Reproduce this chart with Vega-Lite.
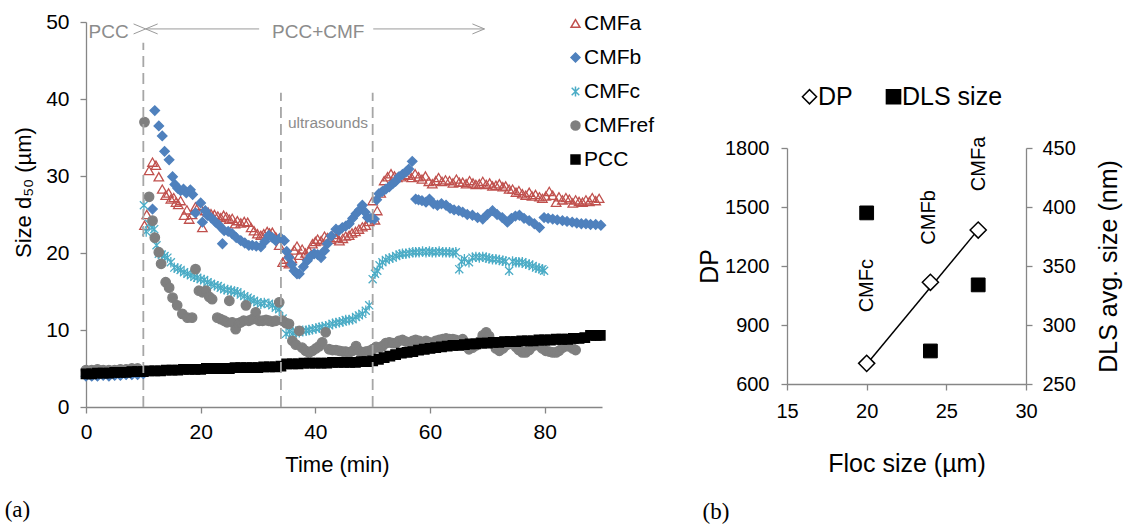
{
"$schema":"https://vega.github.io/schema/vega-lite/v6.json",
"background":"white",
"padding":{"left":4,"top":11,"right":2,"bottom":0},
"spacing":43,
"resolve":{"scale":{"shape":"independent","fill":"independent","stroke":"independent"},"legend":{"shape":"independent","fill":"independent","stroke":"independent"}},
"config":{"view":{"stroke":null},"font":"Liberation Sans",
 "axis":{"grid":false,"domainColor":"#868686","tickColor":"#868686","domainWidth":1.3,"tickWidth":1.3,"tickSize":6,"labelColor":"#000000","titleColor":"#000000","titleFontWeight":"normal","labelFont":"Liberation Sans","titleFont":"Liberation Sans","labelFlush":false},
 "legend":{"labelFont":"Liberation Sans"}},
"datasets":{"size":[
{"s":"CMFa","t":10.2,"d50":23.6},{"s":"CMFa","t":10.6,"d50":25.0},{"s":"CMFa","t":11.0,"d50":30.7},{"s":"CMFa","t":11.6,"d50":31.8},{"s":"CMFa","t":12.2,"d50":31.4},{"s":"CMFa","t":12.7,"d50":29.9},{"s":"CMFa","t":13.3,"d50":28.3},{"s":"CMFa","t":13.9,"d50":27.5},{"s":"CMFa","t":14.4,"d50":27.8},{"s":"CMFa","t":14.8,"d50":27.0},{"s":"CMFa","t":15.3,"d50":27.2},{"s":"CMFa","t":15.7,"d50":26.6},{"s":"CMFa","t":16.1,"d50":26.3},{"s":"CMFa","t":16.5,"d50":26.8},{"s":"CMFa","t":17.1,"d50":24.9},{"s":"CMFa","t":17.6,"d50":25.6},{"s":"CMFa","t":18.0,"d50":24.4},{"s":"CMFa","t":18.5,"d50":25.0},{"s":"CMFa","t":19.1,"d50":26.0},{"s":"CMFa","t":19.7,"d50":26.2},{"s":"CMFa","t":20.3,"d50":23.3},{"s":"CMFa","t":20.8,"d50":25.5},{"s":"CMFa","t":21.3,"d50":25.3},{"s":"CMFa","t":21.8,"d50":25.1},{"s":"CMFa","t":22.4,"d50":25.0},{"s":"CMFa","t":23.0,"d50":24.8},{"s":"CMFa","t":23.5,"d50":24.6},{"s":"CMFa","t":24.0,"d50":24.9},{"s":"CMFa","t":24.5,"d50":24.7},{"s":"CMFa","t":25.0,"d50":24.4},{"s":"CMFa","t":25.5,"d50":24.5},{"s":"CMFa","t":26.0,"d50":23.8},{"s":"CMFa","t":26.4,"d50":24.2},{"s":"CMFa","t":27.0,"d50":23.9},{"s":"CMFa","t":27.6,"d50":24.1},{"s":"CMFa","t":28.2,"d50":24.0},{"s":"CMFa","t":28.8,"d50":23.3},{"s":"CMFa","t":29.3,"d50":22.9},{"s":"CMFa","t":29.9,"d50":22.5},{"s":"CMFa","t":30.5,"d50":22.3},{"s":"CMFa","t":31.0,"d50":22.5},{"s":"CMFa","t":31.6,"d50":22.8},{"s":"CMFa","t":32.0,"d50":22.6},{"s":"CMFa","t":32.5,"d50":22.7},{"s":"CMFa","t":33.1,"d50":22.1},{"s":"CMFa","t":33.7,"d50":21.0},{"s":"CMFa","t":34.3,"d50":18.8},{"s":"CMFa","t":34.8,"d50":19.2},{"s":"CMFa","t":35.4,"d50":18.6},{"s":"CMFa","t":35.9,"d50":19.3},{"s":"CMFa","t":36.3,"d50":20.4},{"s":"CMFa","t":36.8,"d50":20.9},{"s":"CMFa","t":37.2,"d50":19.7},{"s":"CMFa","t":37.7,"d50":20.5},{"s":"CMFa","t":38.3,"d50":20.0},{"s":"CMFa","t":38.9,"d50":20.3},{"s":"CMFa","t":39.5,"d50":21.2},{"s":"CMFa","t":40.0,"d50":21.5},{"s":"CMFa","t":40.4,"d50":21.8},{"s":"CMFa","t":41.0,"d50":21.6},{"s":"CMFa","t":41.6,"d50":22.2},{"s":"CMFa","t":42.1,"d50":22.0},{"s":"CMFa","t":42.7,"d50":21.8},{"s":"CMFa","t":43.2,"d50":22.4},{"s":"CMFa","t":43.7,"d50":22.0},{"s":"CMFa","t":44.2,"d50":21.6},{"s":"CMFa","t":44.8,"d50":21.9},{"s":"CMFa","t":45.3,"d50":22.2},{"s":"CMFa","t":45.9,"d50":22.3},{"s":"CMFa","t":46.4,"d50":22.6},{"s":"CMFa","t":47.0,"d50":22.8},{"s":"CMFa","t":47.6,"d50":23.1},{"s":"CMFa","t":48.2,"d50":23.4},{"s":"CMFa","t":48.8,"d50":23.6},{"s":"CMFa","t":49.4,"d50":24.1},{"s":"CMFa","t":50.0,"d50":26.8},{"s":"CMFa","t":50.4,"d50":24.3},{"s":"CMFa","t":50.8,"d50":25.5},{"s":"CMFa","t":51.4,"d50":27.8},{"s":"CMFa","t":52.0,"d50":29.4},{"s":"CMFa","t":52.6,"d50":29.9},{"s":"CMFa","t":53.2,"d50":30.3},{"s":"CMFa","t":53.8,"d50":30.0},{"s":"CMFa","t":54.3,"d50":29.8},{"s":"CMFa","t":55.0,"d50":29.9},{"s":"CMFa","t":55.6,"d50":30.2},{"s":"CMFa","t":56.2,"d50":30.1},{"s":"CMFa","t":56.8,"d50":29.8},{"s":"CMFa","t":57.4,"d50":30.3},{"s":"CMFa","t":58.0,"d50":29.9},{"s":"CMFa","t":58.6,"d50":29.6},{"s":"CMFa","t":59.2,"d50":30.0},{"s":"CMFa","t":59.8,"d50":29.3},{"s":"CMFa","t":60.4,"d50":29.0},{"s":"CMFa","t":61.0,"d50":29.4},{"s":"CMFa","t":61.5,"d50":29.8},{"s":"CMFa","t":62.1,"d50":29.3},{"s":"CMFa","t":62.7,"d50":29.5},{"s":"CMFa","t":63.4,"d50":29.4},{"s":"CMFa","t":64.0,"d50":29.1},{"s":"CMFa","t":64.6,"d50":29.6},{"s":"CMFa","t":65.1,"d50":29.2},{"s":"CMFa","t":65.7,"d50":29.2},{"s":"CMFa","t":66.3,"d50":29.0},{"s":"CMFa","t":66.9,"d50":29.4},{"s":"CMFa","t":67.5,"d50":29.1},{"s":"CMFa","t":68.0,"d50":28.9},{"s":"CMFa","t":68.6,"d50":29.0},{"s":"CMFa","t":69.2,"d50":29.3},{"s":"CMFa","t":69.8,"d50":28.9},{"s":"CMFa","t":70.4,"d50":29.1},{"s":"CMFa","t":70.9,"d50":28.7},{"s":"CMFa","t":71.5,"d50":28.8},{"s":"CMFa","t":72.1,"d50":29.0},{"s":"CMFa","t":72.7,"d50":28.6},{"s":"CMFa","t":73.2,"d50":28.7},{"s":"CMFa","t":73.8,"d50":28.3},{"s":"CMFa","t":74.4,"d50":28.3},{"s":"CMFa","t":75.0,"d50":27.9},{"s":"CMFa","t":75.5,"d50":28.1},{"s":"CMFa","t":76.1,"d50":27.7},{"s":"CMFa","t":76.7,"d50":27.5},{"s":"CMFa","t":77.3,"d50":27.9},{"s":"CMFa","t":77.8,"d50":27.4},{"s":"CMFa","t":78.4,"d50":27.6},{"s":"CMFa","t":79.1,"d50":27.3},{"s":"CMFa","t":79.6,"d50":27.1},{"s":"CMFa","t":80.2,"d50":27.4},{"s":"CMFa","t":80.8,"d50":28.0},{"s":"CMFa","t":81.4,"d50":27.5},{"s":"CMFa","t":82.0,"d50":26.6},{"s":"CMFa","t":82.5,"d50":27.3},{"s":"CMFa","t":83.1,"d50":26.9},{"s":"CMFa","t":83.7,"d50":27.2},{"s":"CMFa","t":84.3,"d50":27.0},{"s":"CMFa","t":84.9,"d50":26.5},{"s":"CMFa","t":85.4,"d50":26.9},{"s":"CMFa","t":86.0,"d50":26.7},{"s":"CMFa","t":86.6,"d50":26.6},{"s":"CMFa","t":87.2,"d50":26.9},{"s":"CMFa","t":87.8,"d50":26.7},{"s":"CMFa","t":88.3,"d50":27.2},{"s":"CMFa","t":88.9,"d50":26.8},{"s":"CMFa","t":89.5,"d50":27.1},
{"s":"CMFb","t":0,"d50":4.0},{"s":"CMFb","t":1,"d50":4.0},{"s":"CMFb","t":2,"d50":4.0},{"s":"CMFb","t":3,"d50":4.1},{"s":"CMFb","t":4,"d50":4.0},{"s":"CMFb","t":5,"d50":4.1},{"s":"CMFb","t":6,"d50":4.1},{"s":"CMFb","t":7,"d50":4.2},{"s":"CMFb","t":8,"d50":4.2},{"s":"CMFb","t":9,"d50":4.2},{"s":"CMFb","t":10,"d50":4.3},{"s":"CMFb","t":11.6,"d50":25.7},{"s":"CMFb","t":12.0,"d50":38.5},{"s":"CMFb","t":12.7,"d50":36.5},{"s":"CMFb","t":13.3,"d50":35.2},{"s":"CMFb","t":13.7,"d50":33.2},{"s":"CMFb","t":14.5,"d50":32.1},{"s":"CMFb","t":15.1,"d50":29.9},{"s":"CMFb","t":15.5,"d50":28.9},{"s":"CMFb","t":16.0,"d50":28.4},{"s":"CMFb","t":16.5,"d50":28.1},{"s":"CMFb","t":17.0,"d50":28.3},{"s":"CMFb","t":17.5,"d50":27.8},{"s":"CMFb","t":18.2,"d50":28.2},{"s":"CMFb","t":18.6,"d50":27.6},{"s":"CMFb","t":19.1,"d50":25.2},{"s":"CMFb","t":20.0,"d50":26.5},{"s":"CMFb","t":20.3,"d50":24.0},{"s":"CMFb","t":20.8,"d50":25.5},{"s":"CMFb","t":21.2,"d50":24.9},{"s":"CMFb","t":21.8,"d50":24.6},{"s":"CMFb","t":22.6,"d50":24.0},{"s":"CMFb","t":23.2,"d50":23.6},{"s":"CMFb","t":23.8,"d50":21.2},{"s":"CMFb","t":24.1,"d50":22.9},{"s":"CMFb","t":24.8,"d50":22.8},{"s":"CMFb","t":25.5,"d50":22.5},{"s":"CMFb","t":26.2,"d50":22.0},{"s":"CMFb","t":27.0,"d50":21.6},{"s":"CMFb","t":27.7,"d50":21.3},{"s":"CMFb","t":28.4,"d50":21.0},{"s":"CMFb","t":29.0,"d50":21.0},{"s":"CMFb","t":29.7,"d50":20.9},{"s":"CMFb","t":30.5,"d50":20.8},{"s":"CMFb","t":31.2,"d50":21.5},{"s":"CMFb","t":31.9,"d50":22.3},{"s":"CMFb","t":32.5,"d50":22.0},{"s":"CMFb","t":33.1,"d50":21.6},{"s":"CMFb","t":33.9,"d50":22.0},{"s":"CMFb","t":34.6,"d50":21.6},{"s":"CMFb","t":35.0,"d50":20.2},{"s":"CMFb","t":35.4,"d50":19.4},{"s":"CMFb","t":35.9,"d50":18.5},{"s":"CMFb","t":36.3,"d50":17.7},{"s":"CMFb","t":36.8,"d50":17.3},{"s":"CMFb","t":37.2,"d50":17.3},{"s":"CMFb","t":37.9,"d50":18.2},{"s":"CMFb","t":38.6,"d50":19.0},{"s":"CMFb","t":39.2,"d50":19.6},{"s":"CMFb","t":39.8,"d50":19.9},{"s":"CMFb","t":40.4,"d50":19.8},{"s":"CMFb","t":41.0,"d50":19.4},{"s":"CMFb","t":41.6,"d50":20.3},{"s":"CMFb","t":42.1,"d50":21.2},{"s":"CMFb","t":42.8,"d50":22.2},{"s":"CMFb","t":43.6,"d50":23.1},{"s":"CMFb","t":44.1,"d50":22.9},{"s":"CMFb","t":44.7,"d50":23.3},{"s":"CMFb","t":45.3,"d50":23.5},{"s":"CMFb","t":45.9,"d50":23.8},{"s":"CMFb","t":46.5,"d50":24.5},{"s":"CMFb","t":47.1,"d50":25.1},{"s":"CMFb","t":47.7,"d50":25.6},{"s":"CMFb","t":48.2,"d50":26.2},{"s":"CMFb","t":48.7,"d50":25.3},{"s":"CMFb","t":49.1,"d50":24.6},{"s":"CMFb","t":49.7,"d50":24.5},{"s":"CMFb","t":50.3,"d50":24.4},{"s":"CMFb","t":50.7,"d50":26.9},{"s":"CMFb","t":51.1,"d50":27.7},{"s":"CMFb","t":51.7,"d50":28.0},{"s":"CMFb","t":52.3,"d50":28.3},{"s":"CMFb","t":52.9,"d50":28.6},{"s":"CMFb","t":53.5,"d50":29.0},{"s":"CMFb","t":54.0,"d50":29.3},{"s":"CMFb","t":54.6,"d50":29.9},{"s":"CMFb","t":55.2,"d50":30.2},{"s":"CMFb","t":55.8,"d50":30.5},{"s":"CMFb","t":56.3,"d50":30.9},{"s":"CMFb","t":56.9,"d50":31.9},{"s":"CMFb","t":57.5,"d50":27.0},{"s":"CMFb","t":58.0,"d50":26.9},{"s":"CMFb","t":58.6,"d50":26.8},{"s":"CMFb","t":59.3,"d50":26.6},{"s":"CMFb","t":59.9,"d50":27.0},{"s":"CMFb","t":60.6,"d50":26.4},{"s":"CMFb","t":61.3,"d50":26.2},{"s":"CMFb","t":62.0,"d50":26.4},{"s":"CMFb","t":62.8,"d50":26.2},{"s":"CMFb","t":63.5,"d50":25.8},{"s":"CMFb","t":64.2,"d50":25.6},{"s":"CMFb","t":65.0,"d50":25.5},{"s":"CMFb","t":65.7,"d50":25.3},{"s":"CMFb","t":66.5,"d50":25.0},{"s":"CMFb","t":67.4,"d50":24.9},{"s":"CMFb","t":68.3,"d50":24.6},{"s":"CMFb","t":69.2,"d50":24.4},{"s":"CMFb","t":70.0,"d50":25.0},{"s":"CMFb","t":70.9,"d50":25.5},{"s":"CMFb","t":71.7,"d50":25.0},{"s":"CMFb","t":72.6,"d50":24.6},{"s":"CMFb","t":73.5,"d50":24.0},{"s":"CMFb","t":74.2,"d50":24.5},{"s":"CMFb","t":74.9,"d50":24.8},{"s":"CMFb","t":75.6,"d50":24.9},{"s":"CMFb","t":76.4,"d50":24.5},{"s":"CMFb","t":77.3,"d50":24.2},{"s":"CMFb","t":78.2,"d50":23.8},{"s":"CMFb","t":79.1,"d50":23.3},{"s":"CMFb","t":79.9,"d50":24.6},{"s":"CMFb","t":80.6,"d50":24.5},{"s":"CMFb","t":81.4,"d50":24.4},{"s":"CMFb","t":82.2,"d50":24.3},{"s":"CMFb","t":83.1,"d50":24.2},{"s":"CMFb","t":83.9,"d50":24.1},{"s":"CMFb","t":84.8,"d50":24.0},{"s":"CMFb","t":85.6,"d50":23.9},{"s":"CMFb","t":86.4,"d50":23.8},{"s":"CMFb","t":87.2,"d50":23.8},{"s":"CMFb","t":88.0,"d50":23.7},{"s":"CMFb","t":88.9,"d50":23.7},{"s":"CMFb","t":89.8,"d50":23.6},
{"s":"CMFc","t":10.1,"d50":26.2},{"s":"CMFc","t":10.5,"d50":22.8},{"s":"CMFc","t":11.0,"d50":23.8},{"s":"CMFc","t":11.5,"d50":23.3},{"s":"CMFc","t":11.9,"d50":23.1},{"s":"CMFc","t":12.3,"d50":21.0},{"s":"CMFc","t":12.7,"d50":19.9},{"s":"CMFc","t":13.2,"d50":19.8},{"s":"CMFc","t":13.7,"d50":19.6},{"s":"CMFc","t":14.2,"d50":19.4},{"s":"CMFc","t":14.8,"d50":18.8},{"s":"CMFc","t":15.4,"d50":18.1},{"s":"CMFc","t":16.0,"d50":18.0},{"s":"CMFc","t":16.5,"d50":17.8},{"s":"CMFc","t":17.1,"d50":17.5},{"s":"CMFc","t":17.7,"d50":17.3},{"s":"CMFc","t":18.3,"d50":17.1},{"s":"CMFc","t":18.9,"d50":16.9},{"s":"CMFc","t":19.4,"d50":16.8},{"s":"CMFc","t":20.0,"d50":16.6},{"s":"CMFc","t":20.6,"d50":16.5},{"s":"CMFc","t":21.2,"d50":16.2},{"s":"CMFc","t":21.8,"d50":16.0},{"s":"CMFc","t":22.4,"d50":15.8},{"s":"CMFc","t":23.0,"d50":15.7},{"s":"CMFc","t":23.5,"d50":15.5},{"s":"CMFc","t":24.1,"d50":15.3},{"s":"CMFc","t":24.7,"d50":15.2},{"s":"CMFc","t":25.3,"d50":15.1},{"s":"CMFc","t":25.9,"d50":15.0},{"s":"CMFc","t":26.4,"d50":14.9},{"s":"CMFc","t":27.0,"d50":14.6},{"s":"CMFc","t":27.6,"d50":14.4},{"s":"CMFc","t":28.2,"d50":14.2},{"s":"CMFc","t":28.7,"d50":14.0},{"s":"CMFc","t":29.3,"d50":13.8},{"s":"CMFc","t":29.9,"d50":13.6},{"s":"CMFc","t":30.5,"d50":13.4},{"s":"CMFc","t":31.1,"d50":13.5},{"s":"CMFc","t":31.9,"d50":13.4},{"s":"CMFc","t":32.5,"d50":13.2},{"s":"CMFc","t":33.1,"d50":12.9},{"s":"CMFc","t":33.7,"d50":12.7},{"s":"CMFc","t":34.3,"d50":11.5},{"s":"CMFc","t":34.9,"d50":9.5},{"s":"CMFc","t":35.5,"d50":9.8},{"s":"CMFc","t":36.1,"d50":9.6},{"s":"CMFc","t":36.6,"d50":9.8},{"s":"CMFc","t":37.2,"d50":9.7},{"s":"CMFc","t":37.8,"d50":9.9},{"s":"CMFc","t":38.4,"d50":9.9},{"s":"CMFc","t":38.9,"d50":10.0},{"s":"CMFc","t":39.5,"d50":10.1},{"s":"CMFc","t":40.1,"d50":10.2},{"s":"CMFc","t":40.7,"d50":10.3},{"s":"CMFc","t":41.2,"d50":10.4},{"s":"CMFc","t":41.8,"d50":10.5},{"s":"CMFc","t":42.4,"d50":10.6},{"s":"CMFc","t":43.0,"d50":10.8},{"s":"CMFc","t":43.6,"d50":10.9},{"s":"CMFc","t":44.2,"d50":11.0},{"s":"CMFc","t":44.8,"d50":11.1},{"s":"CMFc","t":45.3,"d50":11.3},{"s":"CMFc","t":45.9,"d50":11.3},{"s":"CMFc","t":46.5,"d50":11.4},{"s":"CMFc","t":47.1,"d50":11.7},{"s":"CMFc","t":47.6,"d50":11.9},{"s":"CMFc","t":48.2,"d50":12.1},{"s":"CMFc","t":48.8,"d50":12.5},{"s":"CMFc","t":49.4,"d50":13.2},{"s":"CMFc","t":50.0,"d50":16.6},{"s":"CMFc","t":50.4,"d50":17.3},{"s":"CMFc","t":50.8,"d50":17.7},{"s":"CMFc","t":51.2,"d50":18.4},{"s":"CMFc","t":51.7,"d50":18.8},{"s":"CMFc","t":52.3,"d50":19.1},{"s":"CMFc","t":52.9,"d50":19.3},{"s":"CMFc","t":53.5,"d50":19.4},{"s":"CMFc","t":54.1,"d50":19.6},{"s":"CMFc","t":54.7,"d50":19.8},{"s":"CMFc","t":55.2,"d50":19.9},{"s":"CMFc","t":55.8,"d50":19.9},{"s":"CMFc","t":56.4,"d50":20.0},{"s":"CMFc","t":57.0,"d50":20.1},{"s":"CMFc","t":57.5,"d50":20.1},{"s":"CMFc","t":58.1,"d50":20.1},{"s":"CMFc","t":58.7,"d50":20.2},{"s":"CMFc","t":59.3,"d50":20.1},{"s":"CMFc","t":59.9,"d50":20.2},{"s":"CMFc","t":60.4,"d50":20.1},{"s":"CMFc","t":61.0,"d50":20.1},{"s":"CMFc","t":61.6,"d50":20.2},{"s":"CMFc","t":62.2,"d50":20.1},{"s":"CMFc","t":62.8,"d50":20.1},{"s":"CMFc","t":63.4,"d50":20.1},{"s":"CMFc","t":64.0,"d50":20.0},{"s":"CMFc","t":64.5,"d50":20.1},{"s":"CMFc","t":65.1,"d50":17.9},{"s":"CMFc","t":65.5,"d50":18.9},{"s":"CMFc","t":66.0,"d50":19.2},{"s":"CMFc","t":66.8,"d50":18.8},{"s":"CMFc","t":67.4,"d50":19.4},{"s":"CMFc","t":68.0,"d50":19.5},{"s":"CMFc","t":68.6,"d50":19.4},{"s":"CMFc","t":69.2,"d50":19.5},{"s":"CMFc","t":69.8,"d50":19.4},{"s":"CMFc","t":70.3,"d50":19.3},{"s":"CMFc","t":70.9,"d50":19.2},{"s":"CMFc","t":71.5,"d50":19.2},{"s":"CMFc","t":72.1,"d50":19.1},{"s":"CMFc","t":72.7,"d50":19.0},{"s":"CMFc","t":73.2,"d50":18.9},{"s":"CMFc","t":73.8,"d50":17.7},{"s":"CMFc","t":74.4,"d50":18.9},{"s":"CMFc","t":75.0,"d50":18.8},{"s":"CMFc","t":75.5,"d50":18.8},{"s":"CMFc","t":76.1,"d50":18.8},{"s":"CMFc","t":76.7,"d50":18.6},{"s":"CMFc","t":77.3,"d50":18.5},{"s":"CMFc","t":77.9,"d50":18.3},{"s":"CMFc","t":78.5,"d50":18.1},{"s":"CMFc","t":79.0,"d50":18.0},{"s":"CMFc","t":79.6,"d50":17.9},{"s":"CMFc","t":79.9,"d50":17.7},
{"s":"CMFref","t":0,"d50":4.8},{"s":"CMFref","t":1,"d50":4.8},{"s":"CMFref","t":2,"d50":4.9},{"s":"CMFref","t":3,"d50":4.8},{"s":"CMFref","t":4,"d50":4.8},{"s":"CMFref","t":5,"d50":4.8},{"s":"CMFref","t":6,"d50":4.9},{"s":"CMFref","t":7,"d50":4.9},{"s":"CMFref","t":8,"d50":5.0},{"s":"CMFref","t":9,"d50":5.0},{"s":"CMFref","t":10.2,"d50":37.0},{"s":"CMFref","t":11.0,"d50":27.3},{"s":"CMFref","t":11.6,"d50":24.2},{"s":"CMFref","t":12.0,"d50":22.0},{"s":"CMFref","t":12.7,"d50":20.1},{"s":"CMFref","t":13.1,"d50":18.6},{"s":"CMFref","t":13.9,"d50":16.2},{"s":"CMFref","t":14.5,"d50":15.5},{"s":"CMFref","t":15.1,"d50":14.2},{"s":"CMFref","t":15.9,"d50":13.2},{"s":"CMFref","t":16.8,"d50":12.1},{"s":"CMFref","t":17.7,"d50":11.6},{"s":"CMFref","t":18.5,"d50":11.6},{"s":"CMFref","t":19.1,"d50":17.9},{"s":"CMFref","t":19.7,"d50":15.1},{"s":"CMFref","t":20.3,"d50":14.9},{"s":"CMFref","t":20.9,"d50":15.1},{"s":"CMFref","t":21.5,"d50":14.3},{"s":"CMFref","t":22.0,"d50":14.0},{"s":"CMFref","t":22.9,"d50":11.6},{"s":"CMFref","t":23.5,"d50":11.4},{"s":"CMFref","t":24.1,"d50":11.2},{"s":"CMFref","t":24.6,"d50":11.0},{"s":"CMFref","t":25.0,"d50":13.8},{"s":"CMFref","t":25.5,"d50":11.0},{"s":"CMFref","t":26.1,"d50":10.1},{"s":"CMFref","t":26.6,"d50":10.9},{"s":"CMFref","t":27.0,"d50":11.0},{"s":"CMFref","t":27.5,"d50":11.2},{"s":"CMFref","t":27.9,"d50":13.2},{"s":"CMFref","t":28.4,"d50":11.2},{"s":"CMFref","t":29.0,"d50":11.4},{"s":"CMFref","t":29.6,"d50":12.3},{"s":"CMFref","t":30.2,"d50":11.2},{"s":"CMFref","t":30.8,"d50":11.2},{"s":"CMFref","t":31.4,"d50":11.3},{"s":"CMFref","t":31.9,"d50":11.2},{"s":"CMFref","t":32.5,"d50":11.1},{"s":"CMFref","t":33.1,"d50":11.2},{"s":"CMFref","t":33.7,"d50":13.6},{"s":"CMFref","t":34.3,"d50":11.2},{"s":"CMFref","t":34.9,"d50":10.9},{"s":"CMFref","t":35.4,"d50":10.8},{"s":"CMFref","t":36.0,"d50":8.6},{"s":"CMFref","t":36.6,"d50":8.1},{"s":"CMFref","t":37.2,"d50":9.9},{"s":"CMFref","t":37.7,"d50":7.7},{"s":"CMFref","t":38.3,"d50":7.3},{"s":"CMFref","t":38.9,"d50":7.1},{"s":"CMFref","t":39.5,"d50":7.3},{"s":"CMFref","t":40.1,"d50":7.6},{"s":"CMFref","t":40.7,"d50":7.9},{"s":"CMFref","t":41.2,"d50":8.4},{"s":"CMFref","t":41.8,"d50":9.7},{"s":"CMFref","t":42.4,"d50":7.5},{"s":"CMFref","t":43.0,"d50":7.4},{"s":"CMFref","t":43.6,"d50":7.4},{"s":"CMFref","t":44.2,"d50":7.3},{"s":"CMFref","t":44.8,"d50":7.2},{"s":"CMFref","t":45.3,"d50":7.2},{"s":"CMFref","t":45.9,"d50":7.1},{"s":"CMFref","t":46.5,"d50":7.3},{"s":"CMFref","t":47.1,"d50":7.9},{"s":"CMFref","t":47.6,"d50":7.3},{"s":"CMFref","t":48.2,"d50":7.1},{"s":"CMFref","t":48.8,"d50":7.2},{"s":"CMFref","t":49.4,"d50":7.3},{"s":"CMFref","t":50.0,"d50":7.5},{"s":"CMFref","t":50.6,"d50":7.8},{"s":"CMFref","t":51.2,"d50":7.7},{"s":"CMFref","t":51.7,"d50":7.9},{"s":"CMFref","t":52.3,"d50":8.3},{"s":"CMFref","t":52.9,"d50":8.4},{"s":"CMFref","t":53.5,"d50":8.3},{"s":"CMFref","t":54.1,"d50":8.3},{"s":"CMFref","t":54.6,"d50":8.6},{"s":"CMFref","t":55.2,"d50":8.7},{"s":"CMFref","t":55.8,"d50":8.5},{"s":"CMFref","t":56.4,"d50":8.3},{"s":"CMFref","t":57.0,"d50":8.6},{"s":"CMFref","t":57.5,"d50":8.7},{"s":"CMFref","t":58.1,"d50":8.6},{"s":"CMFref","t":58.7,"d50":8.4},{"s":"CMFref","t":59.3,"d50":8.6},{"s":"CMFref","t":59.9,"d50":8.4},{"s":"CMFref","t":60.4,"d50":8.0},{"s":"CMFref","t":61.0,"d50":8.6},{"s":"CMFref","t":61.6,"d50":8.7},{"s":"CMFref","t":62.2,"d50":8.8},{"s":"CMFref","t":62.8,"d50":8.9},{"s":"CMFref","t":63.4,"d50":8.8},{"s":"CMFref","t":64.0,"d50":8.8},{"s":"CMFref","t":64.5,"d50":8.7},{"s":"CMFref","t":65.1,"d50":8.6},{"s":"CMFref","t":65.7,"d50":8.8},{"s":"CMFref","t":66.3,"d50":8.1},{"s":"CMFref","t":66.8,"d50":7.5},{"s":"CMFref","t":67.4,"d50":7.7},{"s":"CMFref","t":68.0,"d50":8.0},{"s":"CMFref","t":68.6,"d50":8.5},{"s":"CMFref","t":69.2,"d50":9.3},{"s":"CMFref","t":69.8,"d50":9.7},{"s":"CMFref","t":70.3,"d50":9.2},{"s":"CMFref","t":70.9,"d50":8.3},{"s":"CMFref","t":71.5,"d50":7.6},{"s":"CMFref","t":72.1,"d50":7.3},{"s":"CMFref","t":72.7,"d50":7.6},{"s":"CMFref","t":73.2,"d50":8.0},{"s":"CMFref","t":73.8,"d50":8.2},{"s":"CMFref","t":74.4,"d50":8.3},{"s":"CMFref","t":75.0,"d50":7.8},{"s":"CMFref","t":75.5,"d50":7.4},{"s":"CMFref","t":76.1,"d50":7.1},{"s":"CMFref","t":76.7,"d50":7.1},{"s":"CMFref","t":77.3,"d50":7.4},{"s":"CMFref","t":77.9,"d50":7.9},{"s":"CMFref","t":78.5,"d50":8.2},{"s":"CMFref","t":79.0,"d50":8.0},{"s":"CMFref","t":79.6,"d50":7.6},{"s":"CMFref","t":80.2,"d50":7.3},{"s":"CMFref","t":80.8,"d50":7.2},{"s":"CMFref","t":81.4,"d50":7.1},{"s":"CMFref","t":82.0,"d50":7.1},{"s":"CMFref","t":82.5,"d50":7.3},{"s":"CMFref","t":83.1,"d50":7.7},{"s":"CMFref","t":83.7,"d50":7.9},{"s":"CMFref","t":84.3,"d50":7.9},{"s":"CMFref","t":84.9,"d50":7.6},{"s":"CMFref","t":85.4,"d50":7.4},
{"s":"PCC","t":0,"d50":4.3},{"s":"PCC","t":1,"d50":4.3},{"s":"PCC","t":2,"d50":4.4},{"s":"PCC","t":3,"d50":4.4},{"s":"PCC","t":4,"d50":4.4},{"s":"PCC","t":5,"d50":4.5},{"s":"PCC","t":6,"d50":4.5},{"s":"PCC","t":7,"d50":4.5},{"s":"PCC","t":8,"d50":4.6},{"s":"PCC","t":9,"d50":4.6},{"s":"PCC","t":10,"d50":4.6},{"s":"PCC","t":11,"d50":4.7},{"s":"PCC","t":12,"d50":4.7},{"s":"PCC","t":13,"d50":4.7},{"s":"PCC","t":14,"d50":4.8},{"s":"PCC","t":15,"d50":4.8},{"s":"PCC","t":16,"d50":4.8},{"s":"PCC","t":17,"d50":4.9},{"s":"PCC","t":18,"d50":4.9},{"s":"PCC","t":19,"d50":4.9},{"s":"PCC","t":20,"d50":4.9},{"s":"PCC","t":21,"d50":5.0},{"s":"PCC","t":22,"d50":5.0},{"s":"PCC","t":23,"d50":5.0},{"s":"PCC","t":24,"d50":5.0},{"s":"PCC","t":25,"d50":5.0},{"s":"PCC","t":26,"d50":5.1},{"s":"PCC","t":27,"d50":5.1},{"s":"PCC","t":28,"d50":5.1},{"s":"PCC","t":29,"d50":5.1},{"s":"PCC","t":30,"d50":5.1},{"s":"PCC","t":31,"d50":5.2},{"s":"PCC","t":32,"d50":5.2},{"s":"PCC","t":33,"d50":5.2},{"s":"PCC","t":34,"d50":5.3},{"s":"PCC","t":35,"d50":5.6},{"s":"PCC","t":36,"d50":5.6},{"s":"PCC","t":37,"d50":5.6},{"s":"PCC","t":38,"d50":5.7},{"s":"PCC","t":39,"d50":5.7},{"s":"PCC","t":40,"d50":5.7},{"s":"PCC","t":41,"d50":5.7},{"s":"PCC","t":42,"d50":5.7},{"s":"PCC","t":43,"d50":5.8},{"s":"PCC","t":44,"d50":5.8},{"s":"PCC","t":45,"d50":5.8},{"s":"PCC","t":46,"d50":5.8},{"s":"PCC","t":47,"d50":5.8},{"s":"PCC","t":48,"d50":5.9},{"s":"PCC","t":49,"d50":5.9},{"s":"PCC","t":50,"d50":6.0},{"s":"PCC","t":51,"d50":6.2},{"s":"PCC","t":52,"d50":6.4},{"s":"PCC","t":53,"d50":6.6},{"s":"PCC","t":54,"d50":6.8},{"s":"PCC","t":55,"d50":7.0},{"s":"PCC","t":56,"d50":7.1},{"s":"PCC","t":57,"d50":7.2},{"s":"PCC","t":58,"d50":7.4},{"s":"PCC","t":59,"d50":7.5},{"s":"PCC","t":60,"d50":7.6},{"s":"PCC","t":61,"d50":7.7},{"s":"PCC","t":62,"d50":7.8},{"s":"PCC","t":63,"d50":7.9},{"s":"PCC","t":64,"d50":8.0},{"s":"PCC","t":65,"d50":8.0},{"s":"PCC","t":66,"d50":8.1},{"s":"PCC","t":67,"d50":8.2},{"s":"PCC","t":68,"d50":8.2},{"s":"PCC","t":69,"d50":8.3},{"s":"PCC","t":70,"d50":8.3},{"s":"PCC","t":71,"d50":8.4},{"s":"PCC","t":72,"d50":8.4},{"s":"PCC","t":73,"d50":8.5},{"s":"PCC","t":74,"d50":8.5},{"s":"PCC","t":75,"d50":8.5},{"s":"PCC","t":76,"d50":8.6},{"s":"PCC","t":77,"d50":8.6},{"s":"PCC","t":78,"d50":8.6},{"s":"PCC","t":79,"d50":8.7},{"s":"PCC","t":80,"d50":8.7},{"s":"PCC","t":81,"d50":8.7},{"s":"PCC","t":82,"d50":8.8},{"s":"PCC","t":83,"d50":8.8},{"s":"PCC","t":84,"d50":8.8},{"s":"PCC","t":85,"d50":8.9},{"s":"PCC","t":86,"d50":8.9},{"s":"PCC","t":87,"d50":9.0},{"s":"PCC","t":88,"d50":9.3},{"s":"PCC","t":89,"d50":9.3},{"s":"PCC","t":89.7,"d50":9.3}
]},
"hconcat":[
{
 "width":516,"height":385,
 "title":{"text":"(a)","orient":"bottom","anchor":"start","frame":"bounds","font":"Liberation Serif","fontSize":23,"fontWeight":"normal","color":"#000000","offset":24,"dx":-8},
 "encoding":{
  "x":{"field":"t","type":"quantitative","scale":{"domain":[0,90],"nice":false,"zero":false},"axis":{"values":[0,20,40,60,80],"title":"Time (min)","labelFontSize":21,"titleFontSize":22,"labelPadding":8,"titlePadding":12,"titleX":251}},
  "y":{"field":"d50","type":"quantitative","scale":{"domain":[0,50],"nice":false},"axis":{"values":[0,10,20,30,40,50],"title":"Size d₅₀ (µm)","labelFontSize":21,"titleFontSize":22,"labelPadding":11,"titlePadding":10,"titleY":170}}
 },
 "layer":[
  {"data":{"name":"size"},
   "mark":{"type":"point","size":90,"strokeWidth":1.3,"opacity":1},
   "encoding":{
    "shape":{"field":"s","type":"nominal","scale":{"domain":["CMFa","CMFb","CMFc","CMFref","PCC"],"range":["triangle-up","diamond","M-0.85,-0.85L0.85,0.85M-0.85,0.85L0.85,-0.85M0,-1.1L0,1.1","circle","square"]},
      "legend":{"orient":"none","legendX":479,"legendY":-9,"title":null,"labelFontSize":21,"labelColor":"#000000","rowPadding":12,"symbolSize":80,"symbolStrokeWidth":1.5,"labelOffset":-2}},
    "fill":{"field":"s","type":"nominal","scale":{"domain":["CMFa","CMFb","CMFc","CMFref","PCC"],"range":["transparent","#4F81BD","transparent","#7F7F7F","#000000"]},
      "legend":{"orient":"none","legendX":479,"legendY":-9,"title":null,"labelFontSize":21,"labelColor":"#000000","rowPadding":12,"symbolSize":80,"symbolStrokeWidth":1.5,"labelOffset":-2}},
    "stroke":{"field":"s","type":"nominal","scale":{"domain":["CMFa","CMFb","CMFc","CMFref","PCC"],"range":["#C0504D","#4F81BD","#4BACC6","#7F7F7F","#000000"]},
      "legend":{"orient":"none","legendX":479,"legendY":-9,"title":null,"labelFontSize":21,"labelColor":"#000000","rowPadding":12,"symbolSize":80,"symbolStrokeWidth":1.5,"labelOffset":-2}}
   }},
  {"data":{"values":[{"g":"r10","t":10,"d50":0,"o":1},{"g":"r10","t":10,"d50":47.3,"o":2},{"g":"r34","t":34,"d50":0,"o":1},{"g":"r34","t":34,"d50":40.8,"o":2},{"g":"r50","t":50,"d50":0,"o":1},{"g":"r50","t":50,"d50":40.8,"o":2}]},
   "mark":{"type":"line","color":"#A6A6A6","strokeWidth":1.8,"strokeDash":[11,6]},
   "encoding":{"detail":{"field":"g"},"order":{"field":"o"}}},
  {"data":{"values":[
    {"g":"a1","t":8.3,"d50":49.75,"o":1},{"g":"a1","t":10.4,"d50":49.1,"o":2},{"g":"a1","t":8.3,"d50":48.45,"o":3},
    {"g":"a2","t":12.5,"d50":49.75,"o":1},{"g":"a2","t":10.4,"d50":49.1,"o":2},{"g":"a2","t":12.5,"d50":48.45,"o":3},
    {"g":"s1","t":10.4,"d50":49.1,"o":1},{"g":"s1","t":30.2,"d50":49.1,"o":2},
    {"g":"s2","t":50.1,"d50":49.1,"o":1},{"g":"s2","t":69.5,"d50":49.1,"o":2},
    {"g":"a3","t":67.4,"d50":49.75,"o":1},{"g":"a3","t":69.5,"d50":49.1,"o":2},{"g":"a3","t":67.4,"d50":48.45,"o":3}]},
   "mark":{"type":"line","color":"#9A9A9A","strokeWidth":1},
   "encoding":{"detail":{"field":"g"},"order":{"field":"o"}}},
  {"data":{"values":[{"label":"PCC","t":3.95,"d50":48.65},{"label":"PCC+CMF","t":40.5,"d50":48.65}]},
   "mark":{"type":"text","fontSize":19,"color":"#8C8C8C","align":"center","baseline":"middle"},
   "encoding":{"text":{"field":"label"}}},
  {"data":{"values":[{"label":"ultrasounds","t":42.2,"d50":36.9}]},
   "mark":{"type":"text","fontSize":15.5,"color":"#8C8C8C","align":"center","baseline":"middle"},
   "encoding":{"text":{"field":"label"}}}
 ]
},
{
 "spacing":0,
 "resolve":{"scale":{"shape":"independent","fill":"independent","stroke":"independent"},"legend":{"shape":"independent","fill":"independent","stroke":"independent"}},
 "vconcat":[
 {"width":10,"height":62,"data":{"values":[]},"mark":{"type":"point","opacity":0},"encoding":{}},
 {
  "width":239,"height":236,
  "title":{"text":"(b)","orient":"bottom","anchor":"start","frame":"bounds","font":"Liberation Serif","fontSize":23,"fontWeight":"normal","color":"#000000","offset":25,"dx":5},
  "layer":[
   {"layer":[
     {"data":{"values":[{"floc":20,"dp":700},{"floc":27,"dp":1385}]},
      "mark":{"type":"line","color":"#000000","strokeWidth":1.5},
      "encoding":{
       "x":{"field":"floc","type":"quantitative","scale":{"domain":[15,30],"nice":false,"zero":false},"axis":{"values":[15,20,25,30],"title":"Floc size (µm)","labelFontSize":20,"titleFontSize":25,"labelPadding":11,"titlePadding":30}},
       "y":{"field":"dp","type":"quantitative","scale":{"domain":[600,1800],"nice":false,"zero":false},"axis":{"values":[600,900,1200,1500,1800],"format":"d","title":"DP","labelFontSize":20,"titleFontSize":25,"labelPadding":12,"titlePadding":2}}}},
     {"data":{"values":[{"floc":20,"dp":705,"metric":"DP"},{"floc":24.0,"dp":1117,"metric":"DP"},{"floc":27.0,"dp":1383,"metric":"DP"}]},
      "mark":{"type":"point","size":260,"strokeWidth":1.5,"opacity":1},
      "encoding":{
       "x":{"field":"floc","type":"quantitative"},
       "y":{"field":"dp","type":"quantitative"},
       "shape":{"field":"metric","type":"nominal","scale":{"domain":["DP","DLS size"],"range":["diamond","square"]},
         "legend":{"orient":"none","legendX":10,"legendY":-64,"direction":"horizontal","title":null,"labelFontSize":25,"labelColor":"#000000","symbolSize":200,"symbolStrokeWidth":1.5,"columnPadding":28,"labelOffset":-4}},
       "fill":{"field":"metric","type":"nominal","scale":{"domain":["DP","DLS size"],"range":["#FFFFFF","#000000"]},
         "legend":{"orient":"none","legendX":10,"legendY":-64,"direction":"horizontal","title":null,"labelFontSize":25,"labelColor":"#000000","symbolSize":200,"symbolStrokeWidth":1.5,"columnPadding":28,"labelOffset":-4}},
       "stroke":{"field":"metric","type":"nominal","scale":{"domain":["DP","DLS size"],"range":["#000000","#000000"]},
         "legend":{"orient":"none","legendX":10,"legendY":-64,"direction":"horizontal","title":null,"labelFontSize":25,"labelColor":"#000000","symbolSize":200,"symbolStrokeWidth":1.5,"columnPadding":28,"labelOffset":-4}}}},
     {"data":{"values":[{"floc":20,"dp":1100,"name":"CMFc"},{"floc":23.9,"dp":1447,"name":"CMFb"},{"floc":27.05,"dp":1719,"name":"CMFa"}]},
      "mark":{"type":"text","angle":270,"fontSize":20,"color":"#000000","align":"center","baseline":"middle"},
      "encoding":{
       "x":{"field":"floc","type":"quantitative"},
       "y":{"field":"dp","type":"quantitative"},
       "text":{"field":"name"}}}
   ]},
   {"data":{"values":[{"floc":20,"dls":395,"metric":"DLS size"},{"floc":24.0,"dls":278,"metric":"DLS size"},{"floc":27.0,"dls":334,"metric":"DLS size"}]},
    "mark":{"type":"point","size":190,"strokeWidth":1,"opacity":1},
    "encoding":{
     "x":{"field":"floc","type":"quantitative"},
     "y":{"field":"dls","type":"quantitative","scale":{"domain":[250,450],"nice":false,"zero":false},"axis":{"orient":"right","values":[250,300,350,400,450],"title":"DLS avg. size (nm)","labelFontSize":20,"titleFontSize":25,"labelPadding":10,"titlePadding":21,"titleAngle":270,"titleBaseline":"top"}},
     "shape":{"field":"metric","type":"nominal"},
     "fill":{"field":"metric","type":"nominal"},
     "stroke":{"field":"metric","type":"nominal"}}}
  ],
  "resolve":{"scale":{"y":"independent"}}
 }
 ]
}
]
}
